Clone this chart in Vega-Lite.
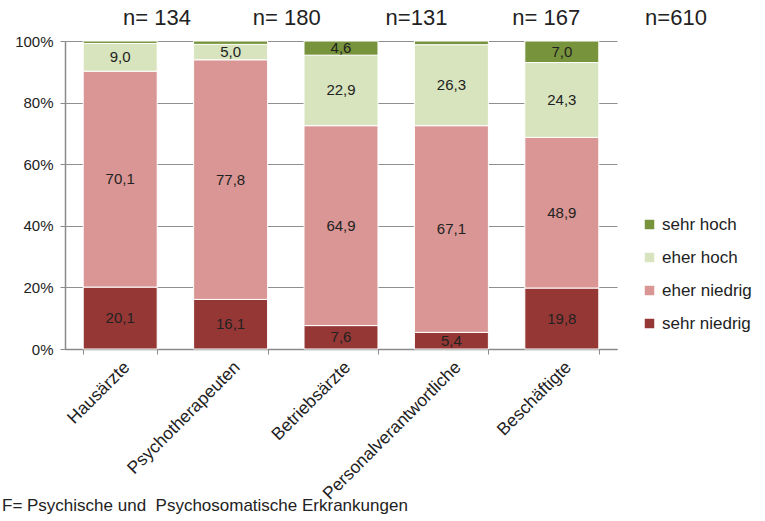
{
  "$schema": "https://vega.github.io/schema/vega-lite/v6.json",
  "width": 552,
  "height": 308,
  "autosize": {"type": "none"},
  "padding": {"left": 65, "top": 41, "right": 148, "bottom": 172},
  "background": "white",
  "config": {
    "font": "Liberation Sans",
    "view": {"stroke": null},
    "locale": {"number": {"decimal": ",", "thousands": ".", "grouping": [3], "currency": ["", " €"]}}
  },
  "title": {
    "text": "F= Psychische und\u00a0 Psychosomatische Erkrankungen",
    "orient": "bottom",
    "anchor": "start",
    "frame": "group",
    "fontSize": 17,
    "fontWeight": "normal",
    "color": "#222222",
    "offset": -4,
    "dx": -63
  },
  "datasets": {
    "main": [
      {"g": "Hausärzte", "k": "sehr niedrig", "v": 20.1},
      {"g": "Hausärzte", "k": "eher niedrig", "v": 70.1},
      {"g": "Hausärzte", "k": "eher hoch", "v": 9.0},
      {"g": "Hausärzte", "k": "sehr hoch", "v": 0.8},
      {"g": "Psychotherapeuten", "k": "sehr niedrig", "v": 16.1},
      {"g": "Psychotherapeuten", "k": "eher niedrig", "v": 77.8},
      {"g": "Psychotherapeuten", "k": "eher hoch", "v": 5.0},
      {"g": "Psychotherapeuten", "k": "sehr hoch", "v": 1.1},
      {"g": "Betriebsärzte", "k": "sehr niedrig", "v": 7.6},
      {"g": "Betriebsärzte", "k": "eher niedrig", "v": 64.9},
      {"g": "Betriebsärzte", "k": "eher hoch", "v": 22.9},
      {"g": "Betriebsärzte", "k": "sehr hoch", "v": 4.6},
      {"g": "Personalverantwortliche", "k": "sehr niedrig", "v": 5.4},
      {"g": "Personalverantwortliche", "k": "eher niedrig", "v": 67.1},
      {"g": "Personalverantwortliche", "k": "eher hoch", "v": 26.3},
      {"g": "Personalverantwortliche", "k": "sehr hoch", "v": 1.2},
      {"g": "Beschäftigte", "k": "sehr niedrig", "v": 19.8},
      {"g": "Beschäftigte", "k": "eher niedrig", "v": 48.9},
      {"g": "Beschäftigte", "k": "eher hoch", "v": 24.3},
      {"g": "Beschäftigte", "k": "sehr hoch", "v": 7.0}
    ],
    "nlab": [
      {"n": "n= 134"},
      {"n": "n= 180"},
      {"n": "n=131"},
      {"n": "n= 167"},
      {"n": "n=610"}
    ]
  },
  "layer": [
    {
      "data": {"name": "main"},
      "transform": [
        {"calculate": "indexof(['sehr niedrig','eher niedrig','eher hoch','sehr hoch'], datum.k)", "as": "o"}
      ],
      "mark": {"type": "bar", "stroke": "white", "strokeWidth": 1},
      "encoding": {
        "x": {
          "field": "g", "type": "nominal",
          "sort": ["Hausärzte", "Psychotherapeuten", "Betriebsärzte", "Personalverantwortliche", "Beschäftigte"],
          "scale": {"paddingInner": 0.33, "paddingOuter": 0.165},
          "axis": {
            "title": null, "labelAngle": -45, "labelFontSize": 17.5, "labelColor": "#222222",
            "labelLimit": 0,
            "domainColor": "#8a8a8a", "domainWidth": 1.5, "tickColor": "#8a8a8a", "tickSize": 5,
            "tickBand": "extent", "labelPadding": 4
          }
        },
        "y": {
          "field": "v", "type": "quantitative", "stack": "zero",
          "scale": {"domain": [0, 100]},
          "axis": {
            "title": null, "values": [0, 20, 40, 60, 80, 100],
            "labelExpr": "datum.value + '%'", "labelFontSize": 15, "labelColor": "#222222",
            "domainColor": "#8a8a8a", "domainWidth": 1.5, "tickColor": "#8a8a8a", "tickSize": 5,
            "gridColor": "#8f8f8f", "labelPadding": 7
          }
        },
        "order": {"field": "o", "type": "quantitative"},
        "color": {
          "field": "k", "type": "nominal",
          "scale": {
            "domain": ["sehr hoch", "eher hoch", "eher niedrig", "sehr niedrig"],
            "range": ["#77933C", "#D7E4BD", "#D99694", "#953735"]
          },
          "legend": {
            "title": null, "orient": "none", "legendX": 576, "legendY": 175,
            "symbolType": "square", "symbolSize": 90, "symbolStrokeWidth": 0,
            "labelFontSize": 17, "labelColor": "#222222", "rowPadding": 15, "labelOffset": 4
          }
        }
      }
    },
    {
      "data": {"name": "main"},
      "transform": [
        {"calculate": "indexof(['sehr niedrig','eher niedrig','eher hoch','sehr hoch'], datum.k)", "as": "o"},
        {"stack": "v", "groupby": ["g"], "sort": [{"field": "o", "order": "ascending"}], "as": ["y0", "y1"]},
        {"calculate": "(datum.y0 + datum.y1) / 2", "as": "mid"},
        {"filter": "datum.v >= 2"}
      ],
      "mark": {"type": "text", "fontSize": 15, "color": "#222222", "baseline": "middle"},
      "encoding": {
        "x": {
          "field": "g", "type": "nominal",
          "sort": ["Hausärzte", "Psychotherapeuten", "Betriebsärzte", "Personalverantwortliche", "Beschäftigte"],
          "scale": {"paddingInner": 0.33, "paddingOuter": 0.165},
          "axis": null
        },
        "y": {"field": "mid", "type": "quantitative"},
        "text": {"field": "v", "type": "quantitative", "format": ".1f"}
      }
    },
    {
      "data": {"name": "nlab"},
      "mark": {"type": "text", "fontSize": 22, "color": "#222222", "baseline": "middle", "dy": -23},
      "encoding": {
        "x": {
          "field": "n", "type": "nominal", "sort": null,
          "scale": {"type": "point", "range": [92, 611], "padding": 0},
          "axis": null
        },
        "y": {"datum": 100, "type": "quantitative"},
        "text": {"field": "n", "type": "nominal"}
      }
    }
  ],
  "resolve": {"scale": {"x": "independent"}}
}
